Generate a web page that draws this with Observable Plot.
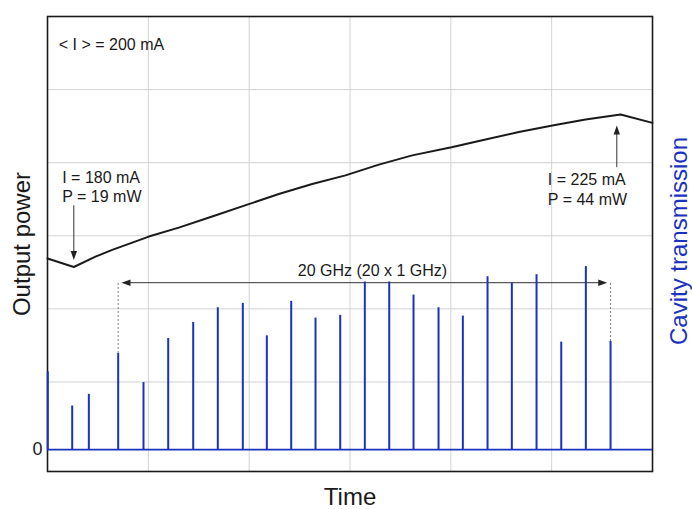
<!DOCTYPE html>
<html><head><meta charset="utf-8">
<script src="https://cdn.jsdelivr.net/npm/d3@7"></script>
<script src="https://cdn.jsdelivr.net/npm/@observablehq/plot@0.6"></script>
<style>body{margin:0;background:#fff} svg{display:block}</style>
</head><body><div id="chart"></div>
<script>
// Cavity transmission peaks (time in grid divisions, height in grid divisions)
const peakTime = [0.003, 0.245, 0.410, 0.701, 0.952, 1.197, 1.445, 1.689, 1.937, 2.175, 2.417, 2.658, 2.903, 3.147, 3.389, 3.630, 3.878, 4.119, 4.364, 4.605, 4.850, 5.095, 5.339, 5.584];
const peakHeight = [1.137, 0.671, 0.831, 1.390, 0.992, 1.595, 1.815, 2.015, 2.075, 1.631, 2.103, 1.874, 1.911, 2.368, 2.368, 2.189, 2.015, 1.901, 2.440, 2.354, 2.468, 1.545, 2.578, 1.554];
const baseline = 0.073;
// Output power trace
const powerTime = [0, 0.261, 0.476, 0.642, 1.005, 1.302, 1.633, 1.996, 2.294, 2.625, 2.955, 3.286, 3.617, 4.007, 4.344, 4.674, 5.021, 5.336, 5.683, 6.0];
const powerValue = [2.69, 2.573, 2.715, 2.807, 2.989, 3.112, 3.263, 3.433, 3.571, 3.708, 3.826, 3.973, 4.100, 4.210, 4.316, 4.421, 4.512, 4.590, 4.658, 4.545];
// Grid
const gridT = [1, 2, 3, 4, 5];
const gridV = [1, 2, 3, 4, 5];
const zeroLabel = ["0"];

const peaks = peakTime.map((t, i) => ({t, v: peakHeight[i]}));
const power = powerTime.map((t, i) => ({t, v: powerValue[i]}));

const BLUE = "#1b32c0";
const INK = "#1a1a1a";
const headShape = {draw(ctx, l, r) { ctx.moveTo(0, -l); ctx.lineTo(r, 0); ctx.lineTo(-r, 0); ctx.closePath(); }};
const heads = [
  {t: 0.261, v: 2.669, rot: 180},
  {t: 5.646, v: 4.508, rot: 0},
  {t: 0.734, v: 2.358, rot: 270},
  {t: 5.551, v: 2.358, rot: 90}
];

const chart = Plot.plot({
  width: 692, height: 509,
  marginLeft: 47, marginRight: 40, marginTop: 16, marginBottom: 38,
  style: {fontFamily: "'Liberation Sans', Arial, sans-serif", background: "#fff", color: INK},
  x: {domain: [0, 6], axis: null},
  y: {domain: [-0.225, 6], axis: null},
  marks: [
    Plot.ruleX(gridT, {stroke: "#d2d2d2", strokeWidth: 1}),
    Plot.ruleY(gridV, {stroke: "#d2d2d2", strokeWidth: 1}),
    Plot.frame({stroke: INK, strokeWidth: 1.6}),
    // power curve
    Plot.line(power, {x: "t", y: "v", stroke: INK, strokeWidth: 2}),
    // annotations
    Plot.text(["< I > = 200 mA"], {x: 0.112, y: 5.605, textAnchor: "start", lineAnchor: "middle", fontSize: 16, fill: INK}),
    Plot.text(["I = 180 mA"], {x: 0.146, y: 3.794, textAnchor: "start", lineAnchor: "middle", fontSize: 16, fill: INK}),
    Plot.text(["P = 19 mW"], {x: 0.146, y: 3.534, textAnchor: "start", lineAnchor: "middle", fontSize: 16, fill: INK}),
    Plot.text(["I = 225 mA"], {x: 4.962, y: 3.767, textAnchor: "start", lineAnchor: "middle", fontSize: 16, fill: INK}),
    Plot.text(["P = 44 mW"], {x: 4.962, y: 3.492, textAnchor: "start", lineAnchor: "middle", fontSize: 16, fill: INK}),
    Plot.text(["20 GHz (20 x 1 GHz)"], {x: 3.223, y: 2.519, textAnchor: "middle", lineAnchor: "middle", fontSize: 16, fill: INK}),
    Plot.ruleX([0.261], {y1: 2.77, y2: 3.41, stroke: "#333", strokeWidth: 1}),
    Plot.ruleX([5.646], {y1: 3.931, y2: 4.41, stroke: "#333", strokeWidth: 1}),
    Plot.ruleY([2.358], {x1: 0.80, x2: 5.49, stroke: "#333", strokeWidth: 1}),
    Plot.ruleX([0.701], {y1: 1.390, y2: 2.358, stroke: "#777", strokeWidth: 1, strokeDasharray: "2,2"}),
    Plot.ruleX([5.584], {y1: 1.554, y2: 2.358, stroke: "#777", strokeWidth: 1, strokeDasharray: "2,2"}),
    Plot.vector(heads, {x: "t", y: "v", rotate: "rot", length: 9, r: 3.2, anchor: "end", shape: headShape, fill: "#222", stroke: "none"}),
    // cavity transmission
    Plot.ruleY([baseline], {stroke: BLUE, strokeWidth: 1.8}),
    Plot.ruleX(peaks, {x: "t", y1: baseline, y2: "v", stroke: BLUE, strokeWidth: 2}),
    // axis texts
    Plot.text(zeroLabel, {frameAnchor: "left", y: baseline, dx: -5, textAnchor: "end", lineAnchor: "middle", fontSize: 18, fill: INK}),
    Plot.text(["Time"], {frameAnchor: "bottom", dy: 26, textAnchor: "middle", lineAnchor: "middle", fontSize: 24, fill: INK}),
    Plot.text(["Output power"], {frameAnchor: "left", dx: -25, rotate: -90, textAnchor: "middle", lineAnchor: "middle", fontSize: 24, fill: INK}),
    Plot.text(["Cavity transmission"], {frameAnchor: "right", dx: 27, dy: -3, rotate: -90, textAnchor: "middle", lineAnchor: "middle", fontSize: 24, fill: BLUE})
  ]
});
document.getElementById("chart").appendChild(chart);
</script>
</body></html>
